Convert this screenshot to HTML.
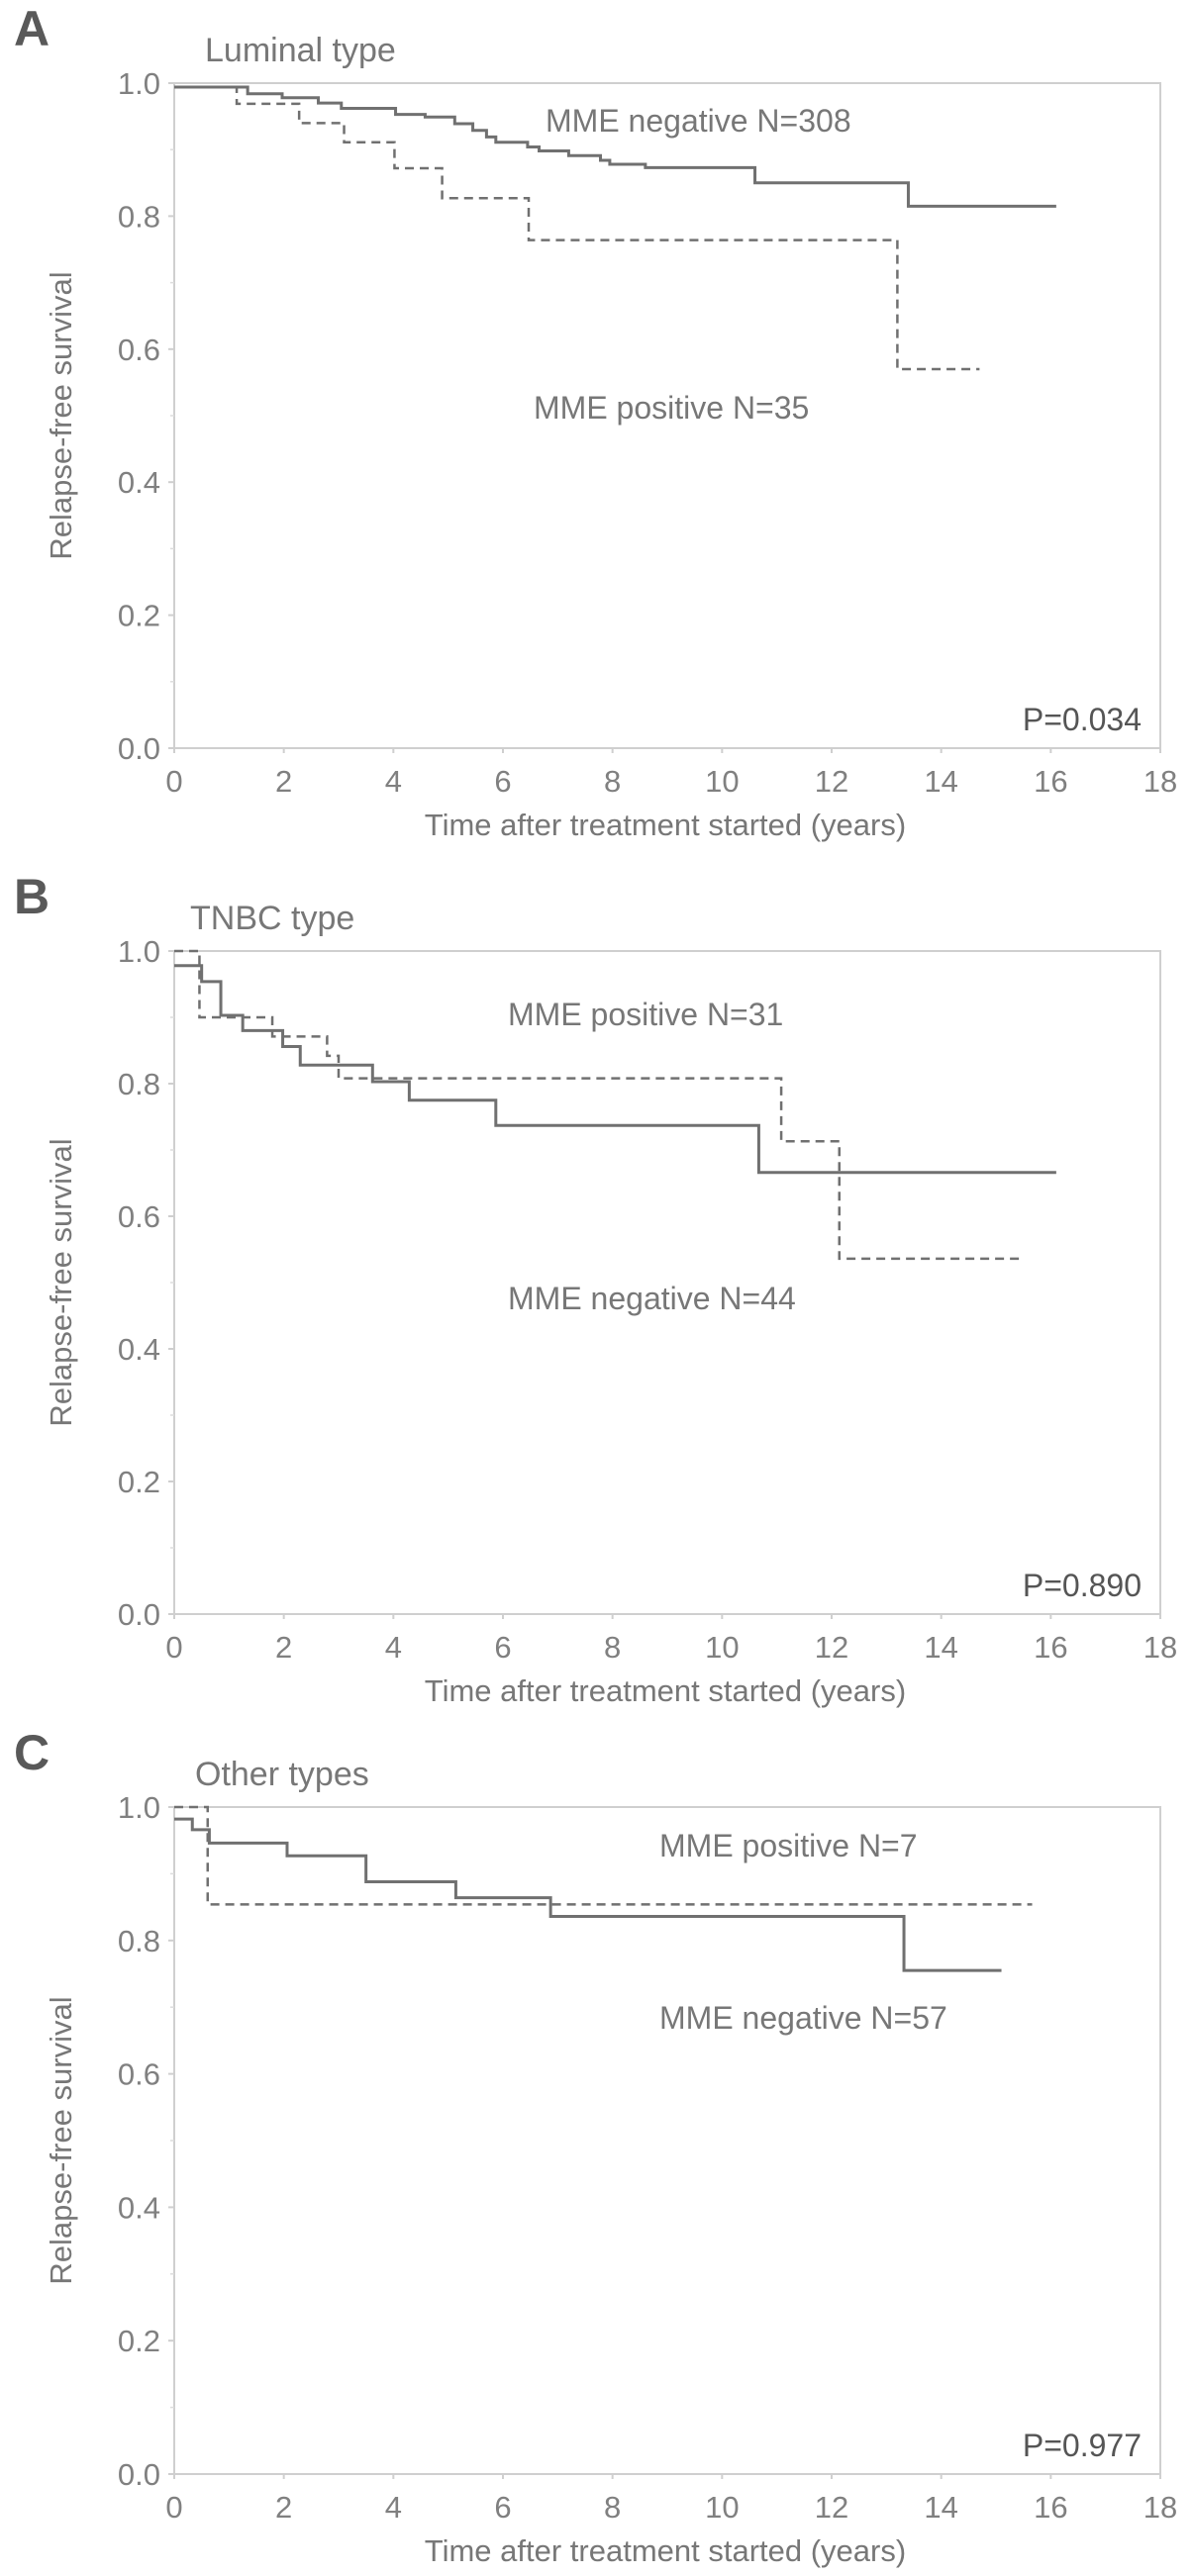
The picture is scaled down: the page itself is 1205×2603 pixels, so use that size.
<!DOCTYPE html>
<html><head><meta charset="utf-8"><style>
html,body{margin:0;padding:0;background:#fff;}
svg{display:block;font-family:"Liberation Sans",Arial,sans-serif;}
</style></head><body>
<svg id="fig" width="1205" height="2603" viewBox="0 0 1205 2603" xmlns="http://www.w3.org/2000/svg"></svg>
<script>
const xTicks=[0,2,4,6,8,10,12,14,16,18];
const yTicks=[0,0.2,0.4,0.6,0.8,1.0];
const yMinor=[0.1,0.3,0.5,0.7,0.9];
// Panel A
const aNegT=[0,1.34,1.97,2.63,3.05,4.04,4.58,5.12,5.45,5.7,5.87,6.45,6.66,7.2,7.78,7.95,8.6,10.6,13.4,16.1];
const aNegS=[0.994,0.984,0.978,0.970,0.962,0.953,0.949,0.939,0.929,0.919,0.911,0.904,0.898,0.891,0.884,0.878,0.873,0.850,0.815,0.815];
const aPosT=[0,1.14,2.28,3.1,4.02,4.89,6.47,13.2,14.7];
const aPosS=[0.994,0.969,0.940,0.911,0.872,0.827,0.764,0.570,0.570];
// Panel B
const bNegT=[0,0.5,0.85,1.25,1.98,2.3,3.62,4.29,5.87,10.67,16.1];
const bNegS=[0.978,0.954,0.903,0.880,0.856,0.828,0.803,0.775,0.737,0.666,0.666];
const bPosT=[0,0.46,1.79,2.79,3.0,11.08,12.14,15.5];
const bPosS=[1.0,0.900,0.871,0.842,0.808,0.713,0.536,0.536];
// Panel C
const cNegT=[0,0.33,0.64,2.06,3.5,5.14,6.87,13.32,15.1];
const cNegS=[0.982,0.966,0.946,0.927,0.888,0.864,0.836,0.755,0.755];
const cPosT=[0,0.61,15.66];
const cPosS=[1.0,0.854,0.854];

const NS="http://www.w3.org/2000/svg";
const svg=document.getElementById('fig');
function mk(tag,attrs,parent){const e=document.createElementNS(NS,tag);for(const k in attrs)e.setAttribute(k,attrs[k]);(parent||svg).appendChild(e);return e;}
const X0=176,X1=1172;
function sx(t){return X0+(X1-X0)*t/18;}

function panel(cfg){
  const g=mk('g',{});
  
  
  const y1=cfg.y1,y0=cfg.y0;
  const sy=v=>y0-(y0-y1)*v;
  const frame=mk('rect',{x:X0,y:y1,width:X1-X0,height:y0-y1,fill:'none',stroke:'#cfcfcf','stroke-width':2},g);
  
  
  yTicks.forEach(v=>{
    const tk=mk('line',{x1:X0-6,x2:X0,y1:sy(v),y2:sy(v),stroke:'#cfcfcf','stroke-width':2},g);
    
    
    const t=mk('text',{x:X0-14,y:sy(v)+11,'text-anchor':'end','font-size':31,fill:'#808080'},g);
    t.textContent=v.toFixed(1);
    
    
  });
  yMinor.forEach(v=>{
    const tk=mk('line',{x1:X0-4,x2:X0,y1:sy(v),y2:sy(v),stroke:'#dcdcdc','stroke-width':1.5},g);
    
    
  });
  xTicks.forEach(v=>{
    const tk=mk('line',{x1:sx(v),x2:sx(v),y1:y0,y2:y0+5,stroke:'#cfcfcf','stroke-width':2},g);
    
    
    const t=mk('text',{x:sx(v),y:y0+44,'text-anchor':'middle','font-size':31,fill:'#808080'},g);
    t.textContent=String(v);
    
    
  });
  const xt=mk('text',{x:672,y:y0+88,'text-anchor':'middle','font-size':31,fill:'#777'},g);
  xt.textContent='Time after treatment started (years)';
  
  
  const ym=(y0+y1)/2;
  const yt=mk('text',{x:0,y:0,'text-anchor':'middle','font-size':31,fill:'#777',transform:`translate(72,${ym}) rotate(-90)`},g);
  yt.textContent='Relapse-free survival';
  
  
  const L=mk('text',{x:14,y:y1-38,'font-size':50,'font-weight':'bold',fill:'#595959'},g);
  L.textContent=cfg.letter;
  
  
  const T=mk('text',{x:cfg.titleX,y:y1-22,'font-size':34,fill:'#777'},g);
  T.textContent=cfg.title;
  
  
  function step(ts,ss){
    let d='M'+sx(ts[0])+','+sy(ss[0]);
    for(let i=1;i<ts.length;i++){d+=' H'+sx(ts[i])+' V'+sy(ss[i]);}
    return d;
  }
  const neg=mk('path',{d:step(cfg.negT,cfg.negS),fill:'none',stroke:'#707070','stroke-width':3},g);
  
  
  const pos=mk('path',{d:step(cfg.posT,cfg.posS),fill:'none',stroke:'#707070','stroke-width':2.5,'stroke-dasharray':'9,6'},g);
  
  
  cfg.labels.forEach(lb=>{
    const t=mk('text',{x:lb[1],y:lb[2],'font-size':32,fill:'#777'},g);
    t.textContent=lb[0];
    
    
  });
  const p=mk('text',{x:1153,y:y0-18,'text-anchor':'end','font-size':32,fill:'#555'},g);
  p.textContent=cfg.p;
  
  
}
panel({id:'luminal',letter:'A',title:'Luminal type',titleX:207,y1:84,y0:756,negT:aNegT,negS:aNegS,posT:aPosT,posS:aPosS,p:'P=0.034',
  labels:[['MME negative N=308',551,133,'negative-label'],['MME positive N=35',539,423,'positive-label']]});
panel({id:'tnbc',letter:'B',title:'TNBC type',titleX:192,y1:961,y0:1631,negT:bNegT,negS:bNegS,posT:bPosT,posS:bPosS,p:'P=0.890',
  labels:[['MME positive N=31',513,1036,'positive-label'],['MME negative N=44',513,1323,'negative-label']]});
panel({id:'other',letter:'C',title:'Other types',titleX:197,y1:1826,y0:2500,negT:cNegT,negS:cNegS,posT:cPosT,posS:cPosS,p:'P=0.977',
  labels:[['MME positive N=7',666,1876,'positive-label'],['MME negative N=57',666,2050,'negative-label']]});
</script>
</body></html>
